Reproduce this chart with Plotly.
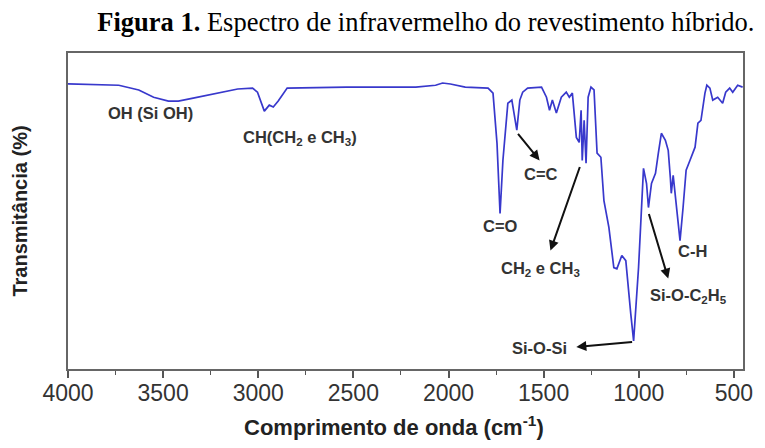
import plotly.graph_objects as go

# Wavenumber (cm-1) and transmittance (%)
wavenumber = [4000, 3733, 3628, 3550, 3472, 3420, 3342, 3238, 3108, 3030, 3004, 2968, 2942, 2921,
              2895, 2848, 2536, 2172, 2068, 2031, 1990, 1912, 1792, 1766, 1745, 1729, 1714, 1688,
              1667, 1641, 1625, 1610, 1584, 1511, 1485, 1469, 1454, 1433, 1407, 1381, 1365, 1349,
              1328, 1313, 1303, 1297, 1287, 1277, 1266, 1251, 1235, 1219, 1199, 1183, 1157, 1131,
              1115, 1089, 1068, 1042, 1027, 1001, 985, 975, 959, 949, 933, 912, 897, 881, 860, 845,
              834, 829, 819, 803, 783, 767, 751, 731, 704, 689, 673, 652, 642, 626, 611, 585, 559,
              543, 522, 506, 480, 454]
transmittance = [90.2, 89.8, 88.3, 86.0, 84.8, 84.8, 85.7, 87.0, 88.6, 88.9, 87.6, 81.6, 83.5, 82.9,
                 84.8, 88.9, 89.2, 89.2, 89.8, 90.5, 90.2, 89.2, 88.9, 87.3, 71.4, 49.2, 66.0, 84.1,
                 85.1, 75.6, 85.1, 87.6, 88.9, 89.2, 86.0, 81.9, 85.1, 81.0, 86.0, 87.6, 86.0, 87.3,
                 73.3, 71.7, 81.9, 66.0, 78.7, 65.1, 86.0, 89.2, 88.3, 68.3, 67.0, 53.3, 44.8, 32.1,
                 31.7, 35.9, 34.3, 17.5, 8.9, 32.1, 53.3, 63.5, 58.7, 51.1, 58.7, 61.9, 68.3, 74.6, 72.4, 69.2,
                 60.6, 55.6, 61.3, 52.4, 40.6, 51.1, 62.9, 66.0, 70.2, 77.8, 78.7, 87.3, 89.8, 88.9, 85.1, 86.0, 84.1,
                 87.6, 88.9, 87.6, 89.8, 89.2]

x_ticks = [4000, 3500, 3000, 2500, 2000, 1500, 1000, 500]

# Band labels: text, wavenumber, transmittance
label_texts = ["OH (Si OH)", "CH(CH<sub>2</sub> e CH<sub>3</sub>)", "C=C", "C=O",
               "CH<sub>2</sub> e CH<sub>3</sub>", "Si-O-Si", "Si-O-C<sub>2</sub>H<sub>5</sub>", "C-H"]
label_w = [3566, 2781, 1516, 1729, 1516, 1521, 741, 720]
label_t = [80.9, 73.0, 61.6, 45.4, 31.7, 6.7, 23.2, 37.5]

# Arrows: tail (near band) -> head (near label)
arrow_tail_w = [1641, 1307, 1027, 949]
arrow_tail_t = [74.9, 64.4, 8.6, 49.5]
arrow_head_w = [1521, 1464, 1328, 845]
arrow_head_t = [66.0, 37.5, 7.0, 28.6]

SANS = "Liberation Sans, Arial, sans-serif"

fig = go.Figure()
fig.add_trace(go.Scatter(x=wavenumber, y=transmittance, mode="lines",
                         line=dict(color="#3838CC", width=1.7), showlegend=False))

annotations = []
for t, w, tr in zip(label_texts, label_w, label_t):
    annotations.append(dict(x=w, y=tr, xref="x", yref="y", text="<b>" + t + "</b>",
                            showarrow=False, font=dict(family=SANS, size=16.5, color="#333333")))
for tw, tt, hw, ht in zip(arrow_tail_w, arrow_tail_t, arrow_head_w, arrow_head_t):
    annotations.append(dict(x=hw, y=ht, ax=tw, ay=tt, xref="x", yref="y", axref="x", ayref="y",
                            text="", showarrow=True, arrowhead=2, arrowsize=1, arrowwidth=2,
                            arrowcolor="#111111"))

# x-axis title, placed slightly left of the plot centre as in the reference
annotations.append(dict(x=0.483, y=0, xref="paper", yref="paper", xanchor="center", yanchor="middle",
                        yshift=-57, showarrow=False,
                        text="<b>Comprimento de onda (cm<sup>-1</sup>)</b>",
                        font=dict(family=SANS, size=22, color="#222222")))

# The page body adds an 8 px offset, so the figure is sized to the remaining area
fig.update_layout(
    width=757, height=440,
    margin=dict(l=60, r=18, t=45, b=79),
    paper_bgcolor="white", plot_bgcolor="white",
    title=dict(text="<b>Figura 1.</b> Espectro de infravermelho do revestimento híbrido.",
               x=0.986, xanchor="right", xref="container", y=0.968, yanchor="middle",
               font=dict(family="Liberation Serif, Times New Roman, serif", size=26.5, color="black")),
    annotations=annotations,
)
fig.update_xaxes(range=[4000, 452], tickvals=x_ticks, ticks="outside", ticklen=7, tickwidth=1.5,
                 tickcolor="#555555", showline=True, linecolor="#666666", linewidth=2, mirror=True,
                 showgrid=False, zeroline=False, ticklabelstandoff=-5,
                 minor=dict(dtick=250, ticks="outside", ticklen=4, tickcolor="#555555", tickwidth=1.2),
                 tickfont=dict(family=SANS, size=23, color="#333333"))
fig.update_yaxes(range=[0, 100], showticklabels=False, ticks="", showline=True, linecolor="#666666",
                 linewidth=2, mirror=True, showgrid=False, zeroline=False,
                 title=dict(text="<b>Transmitância (%)</b>", standoff=33,
                            font=dict(family=SANS, size=20, color="#222222")))

fig.write_html("out.html")
